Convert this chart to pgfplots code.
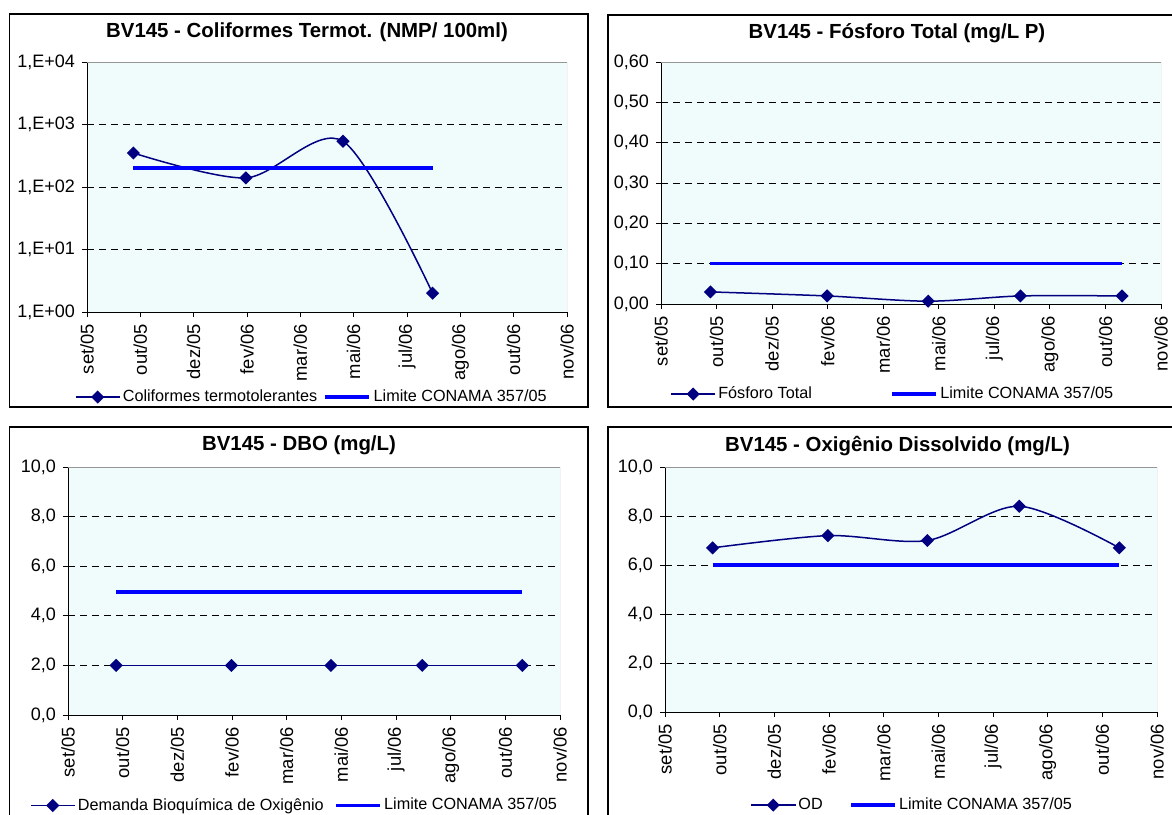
\documentclass[border=0pt]{standalone}
\usepackage{pgfplots}
\pgfplotsset{compat=1.18}
\usepackage{fontspec}
\setmainfont{Liberation Sans}
\definecolor{bgc}{RGB}{240,251,251}
\definecolor{navyc}{RGB}{0,0,128}
\definecolor{limc}{RGB}{0,0,255}
\definecolor{bordc}{RGB}{150,150,150}

\pgfplotsset{
 panel/.style={
  scale only axis,
  anchor=south west,
  axis lines*=left,
  axis line style={black, line width=0.5pt},
  axis background/.style={fill=bgc},
  xmin=0, xmax=9,
  xtick={0,1,2,3,4,5,6,7,8,9},
  xticklabels={set/05,out/05,dez/05,fev/06,mar/06,mai/06,jul/06,ago/06,out/06,nov/06},
  xticklabel style={rotate=90, anchor=east, font=\fontsize{9.2}{10}\selectfont},
  yticklabel style={font=\fontsize{9}{10}\selectfont},
  tick align=outside,
  major tick length=2.5pt,
  tick style={black, line width=0.5pt},
  ymajorgrids,
  major grid style={black, dash pattern=on 3.5pt off 2.5pt, line width=0.4pt},
  /pgf/number format/assume math mode=true,
  scaled y ticks=false,
  legend columns=2,
  legend cell align=left,
  legend style={draw=none, fill=none, anchor=west, font=\fontsize{8.1}{9}\selectfont, inner sep=0pt, nodes={inner sep=1.2pt}},
  legend image code/.code={\draw[mark repeat=2,mark phase=2,##1] plot coordinates {(0pt,0pt) (11pt,0pt) (22pt,0pt)};},
 },
 ser/.style={navyc, line width=0.75pt, mark=square*, mark size=1.95pt, mark options={fill=navyc, solid, rotate=45}, smooth, tension=0.5},
 lim/.style={limc, line width=1.8pt, no markers},
}
\newcommand{\topright}{\draw[bordc, line width=0.5pt] (rel axis cs:0,1) -- (rel axis cs:1,1) -- (rel axis cs:1,0);}

\begin{document}
\begin{tikzpicture}
\path[use as bounding box] (0,0) rectangle (586pt,-407pt);
% frames
\draw[line width=0.7pt] (4.75pt,-7pt) rectangle (294pt,-203.5pt);
\draw[line width=0.7pt] (304pt,-7.5pt) rectangle (592pt,-203.5pt);
\draw[line width=0.7pt] (4.75pt,-213.5pt) rectangle (294pt,-412pt);
\draw[line width=0.7pt] (304pt,-213.5pt) rectangle (592pt,-412pt);
% titles
\node[font=\bfseries\fontsize{10.2}{12}\selectfont] at (153.5pt,-16.25pt) {BV145 - Coliformes Termot. (NMP/ 100ml)};
\node[font=\bfseries\fontsize{10.2}{12}\selectfont] at (448.5pt,-16.5pt) {BV145 - Fósforo Total (mg/L P)};
\node[font=\bfseries\fontsize{10.2}{12}\selectfont] at (149.5pt,-222.85pt) {BV145 - DBO (mg/L)};
\node[font=\bfseries\fontsize{10.2}{12}\selectfont] at (448.75pt,-222.85pt) {BV145 - Oxigênio Dissolvido (mg/L)};

% Panel 1
\begin{axis}[panel, at={(43.5pt,-156pt)}, width=240pt, height=125pt,
  ymode=log, ymin=1, ymax=10000, yminorticks=false,
  ytick={1,10,100,1000,10000},
  yticklabels={{1,E+00},{1,E+01},{1,E+02},{1,E+03},{1,E+04}},
  legend style={at={(-0.026,-0.34)}, /tikz/every even column/.append style={column sep=2pt}}]
\addplot[ser] coordinates {(0.87,350) (2.98,140) (4.80,540) (6.48,2)};
\addlegendentry{Coliformes termotolerantes}
\addplot[lim] coordinates {(0.87,200) (2.98,200) (4.80,200) (6.48,200)};
\addlegendentry{Limite CONAMA 357/05}
\topright
\end{axis}

% Panel 2
\begin{axis}[panel, at={(330.5pt,-152pt)}, width=250pt, height=121pt,
  ymin=0, ymax=0.6, ytick={0,0.1,0.2,0.3,0.4,0.5,0.6},
  yticklabel style={/pgf/number format/.cd, fixed, fixed zerofill, precision=2, use comma},
  legend style={at={(0.018,-0.372)}, /tikz/every even column/.append style={column sep=38pt}}]
\addplot[ser] coordinates {(0.89,0.03) (2.99,0.02) (4.81,0.007) (6.47,0.02) (8.30,0.02)};
\addlegendentry{Fósforo Total}
\addplot[lim] coordinates {(0.89,0.1) (2.99,0.1) (4.81,0.1) (6.47,0.1) (8.30,0.1)};
\addlegendentry{Limite CONAMA 357/05}
\topright
\end{axis}

% Panel 3
\begin{axis}[panel, at={(34pt,-357.5pt)}, width=246pt, height=124pt,
  ymin=0, ymax=10, ytick={0,2,4,6,8,10},
  yticklabel style={/pgf/number format/.cd, fixed, fixed zerofill, precision=1, use comma},
  legend style={at={(-0.078,-0.365)}, /tikz/every even column/.append style={column sep=4pt}}]
\addplot[ser] coordinates {(0.88,2) (2.99,2) (4.81,2) (6.48,2) (8.31,2)};
\addlegendentry{Demanda Bioquímica de Oxigênio}
\addplot[lim] coordinates {(0.88,4.95) (2.99,4.95) (4.81,4.95) (6.48,4.95) (8.31,4.95)};
\addlegendentry{Limite CONAMA 357/05}
\topright
\end{axis}

% Panel 4
\begin{axis}[panel, at={(332.5pt,-356pt)}, width=246pt, height=122.5pt,
  ymin=0, ymax=10, ytick={0,2,4,6,8,10},
  yticklabel style={/pgf/number format/.cd, fixed, fixed zerofill, precision=1, use comma},
  legend style={at={(0.173,-0.38)}, /tikz/every even column/.append style={column sep=12pt}}]
\addplot[ser] coordinates {(0.87,6.7) (2.98,7.2) (4.80,7.0) (6.48,8.4) (8.31,6.7)};
\addlegendentry{OD}
\addplot[lim] coordinates {(0.87,6) (2.98,6) (4.80,6) (6.48,6) (8.31,6)};
\addlegendentry{Limite CONAMA 357/05}
\topright
\end{axis}
\end{tikzpicture}
\end{document}
